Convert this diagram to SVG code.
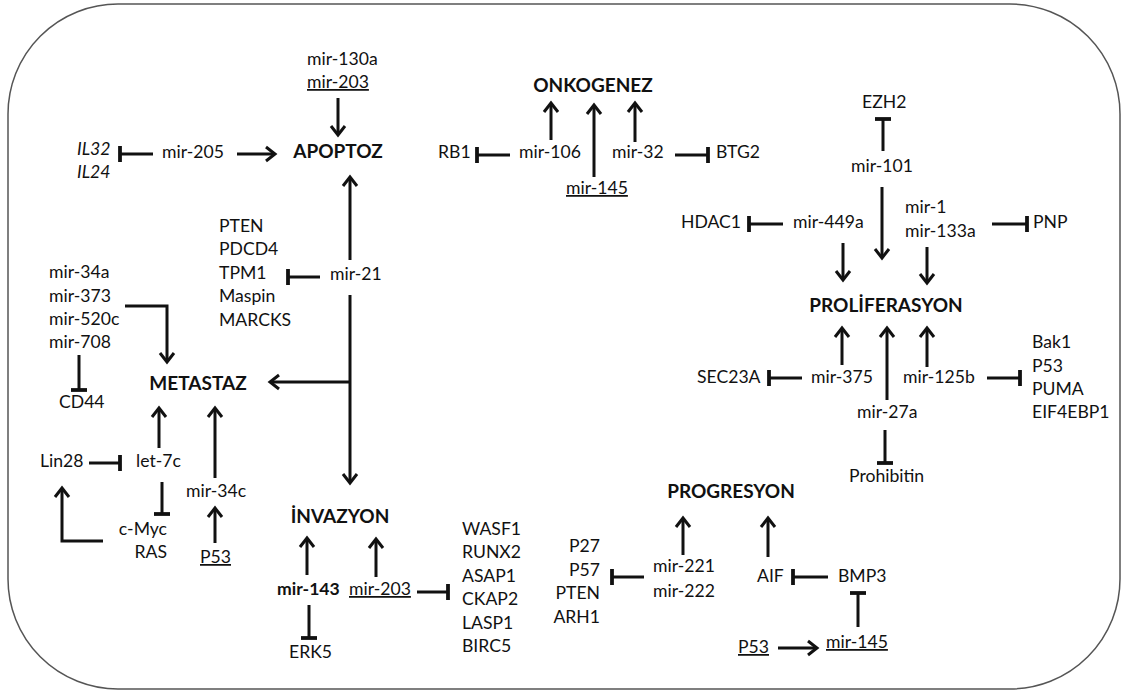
<svg xmlns="http://www.w3.org/2000/svg" width="1129" height="693" viewBox="0 0 1129 693">
<style>
text{font-family:Lato,"Open Sans","Liberation Sans",sans-serif;font-size:17.6px;fill:#111}
.b{font-weight:bold;font-size:19px}
.i{font-style:italic}
.u{text-decoration:underline}
.m{text-anchor:middle}
.r{text-anchor:end}
.c line,.c polyline{stroke:#111;stroke-width:3;fill:none}
.a{marker-end:url(#arr)}
.t{marker-end:url(#bar)}
</style>
<defs>
<marker id="arr" markerUnits="userSpaceOnUse" markerWidth="20" markerHeight="20" viewBox="-12 -10 14 20" refX="0" refY="0" orient="auto" overflow="visible">
<path d="M-9,-7 L0,0 L-9,7" fill="none" stroke="#111" stroke-width="3" stroke-linejoin="miter"/>
</marker>
<marker id="bar" markerUnits="userSpaceOnUse" markerWidth="20" markerHeight="20" viewBox="-4 -10 8 20" refX="0" refY="0" orient="auto" overflow="visible">
<path d="M0,-8 L0,8" fill="none" stroke="#111" stroke-width="3.8"/>
</marker>
</defs>
<rect x="8" y="4" width="1112" height="685" rx="110" ry="110" fill="#fff" stroke="#555" stroke-width="1.5"/>
<g class="c" id="connectors">
<line class="a" x1="338" y1="98" x2="338" y2="135"/>
<line class="a" x1="237" y1="154" x2="275" y2="154"/>
<line class="t" x1="153" y1="154" x2="120" y2="154"/>
<line class="a" x1="350" y1="260" x2="350" y2="177"/>
<line class="t" x1="320" y1="277" x2="288" y2="277"/>
<line class="a" x1="350" y1="295" x2="350" y2="483"/>
<line class="a" x1="350" y1="382" x2="270" y2="382"/>
<polyline class="a" points="125,306 167,306 167,362"/>
<line class="t" x1="79" y1="355" x2="79" y2="390"/>
<line class="a" x1="159" y1="448" x2="159" y2="408"/>
<line class="a" x1="215" y1="478" x2="215" y2="408"/>
<line class="t" x1="89" y1="463" x2="120" y2="463"/>
<line class="t" x1="162" y1="482" x2="162" y2="514"/>
<polyline class="a" points="103,541 62,541 62,488"/>
<line class="a" x1="215" y1="543" x2="215" y2="508"/>
<line class="a" x1="307" y1="575" x2="307" y2="538"/>
<line class="a" x1="376" y1="577" x2="376" y2="539"/>
<line class="t" x1="417" y1="592" x2="448" y2="592"/>
<line class="t" x1="309" y1="605" x2="309" y2="638"/>
<line class="a" x1="551" y1="140" x2="551" y2="103"/>
<line class="a" x1="594" y1="177" x2="594" y2="105"/>
<line class="a" x1="635" y1="142" x2="635" y2="103"/>
<line class="t" x1="510" y1="155" x2="477" y2="155"/>
<line class="t" x1="675" y1="155" x2="708" y2="155"/>
<line class="t" x1="883" y1="151" x2="883" y2="119"/>
<line class="a" x1="882" y1="187" x2="882" y2="258"/>
<line class="t" x1="783" y1="224" x2="749" y2="224"/>
<line class="a" x1="843" y1="243" x2="843" y2="280"/>
<line class="a" x1="927" y1="247" x2="927" y2="283"/>
<line class="t" x1="992" y1="224" x2="1027" y2="224"/>
<line class="a" x1="842" y1="365" x2="842" y2="328"/>
<line class="a" x1="887" y1="400" x2="887" y2="328"/>
<line class="a" x1="927" y1="367" x2="927" y2="328"/>
<line class="t" x1="802" y1="378" x2="769" y2="378"/>
<line class="t" x1="987" y1="378" x2="1020" y2="378"/>
<line class="t" x1="885" y1="430" x2="885" y2="463"/>
<line class="a" x1="683" y1="555" x2="683" y2="518"/>
<line class="a" x1="768" y1="557" x2="768" y2="518"/>
<line class="t" x1="644" y1="577" x2="612" y2="577"/>
<line class="t" x1="828" y1="577" x2="793" y2="577"/>
<line class="t" x1="858" y1="627" x2="858" y2="593"/>
<line class="a" x1="778" y1="648" x2="817" y2="648"/>
</g>
<g id="apoptoz"><text class="b m" x="338" y="158">APOPTOZ</text></g>
<g id="onkogenez"><text class="b m" x="593" y="92">ONKOGENEZ</text></g>
<g id="proliferasyon"><text class="b m" x="886" y="312">PROLİFERASYON</text></g>
<g id="metastaz"><text class="b m" x="198" y="390">METASTAZ</text></g>
<g id="invazyon"><text class="b m" x="340" y="523">İNVAZYON</text></g>
<g id="progresyon"><text class="b m" x="731" y="498">PROGRESYON</text></g>
<g id="mir130a-203"><text x="307" y="65">mir-130a</text><text class="u" x="307" y="88">mir-203</text></g>
<g id="mir205"><text x="162" y="158">mir-205</text></g>
<g id="il"><text class="i" x="77" y="155">IL32</text><text class="i" x="77" y="178">IL24</text></g>
<g id="pten-list"><text x="219" y="232">PTEN</text><text x="219" y="255">PDCD4</text><text x="219" y="279">TPM1</text><text x="219" y="302">Maspin</text><text x="219" y="326">MARCKS</text></g>
<g id="mir21"><text x="330" y="280">mir-21</text></g>
<g id="mir34a-list"><text x="49" y="278">mir-34a</text><text x="49" y="302">mir-373</text><text x="49" y="325">mir-520c</text><text x="49" y="348">mir-708</text></g>
<g id="cd44"><text x="59" y="408">CD44</text></g>
<g id="lin28"><text x="40" y="467">Lin28</text></g>
<g id="let7c"><text x="136" y="467">let-7c</text></g>
<g id="cmyc"><text class="r" x="167" y="535">c-Myc</text><text class="r" x="167" y="558">RAS</text></g>
<g id="mir34c"><text x="186" y="497">mir-34c</text></g>
<g id="p53a"><text class="u" x="200" y="563">P53</text></g>
<g id="mir143"><text class="b" style="font-size:17.6px" x="277" y="595">mir-143</text></g>
<g id="mir203b"><text class="u" x="349" y="595">mir-203</text></g>
<g id="erk5"><text x="289" y="658">ERK5</text></g>
<g id="wasf-list"><text x="462" y="535">WASF1</text><text x="462" y="558">RUNX2</text><text x="462" y="582">ASAP1</text><text x="462" y="605">CKAP2</text><text x="462" y="629">LASP1</text><text x="462" y="652">BIRC5</text></g>
<g id="rb1"><text x="438" y="158">RB1</text></g>
<g id="mir106"><text x="519" y="158">mir-106</text></g>
<g id="mir32"><text x="612" y="158">mir-32</text></g>
<g id="btg2"><text x="716" y="158">BTG2</text></g>
<g id="mir145a"><text class="u" x="566" y="194">mir-145</text></g>
<g id="ezh2"><text x="862" y="108">EZH2</text></g>
<g id="mir101"><text x="851" y="172">mir-101</text></g>
<g id="hdac1"><text x="681" y="228">HDAC1</text></g>
<g id="mir449a"><text x="793" y="228">mir-449a</text></g>
<g id="mir1-133a"><text x="905" y="213">mir-1</text><text x="905" y="237">mir-133a</text></g>
<g id="pnp"><text x="1033" y="228">PNP</text></g>
<g id="sec23a"><text x="697" y="383">SEC23A</text></g>
<g id="mir375"><text x="811" y="383">mir-375</text></g>
<g id="mir125b"><text x="903" y="383">mir-125b</text></g>
<g id="bak1-list"><text x="1032" y="348">Bak1</text><text x="1032" y="372">P53</text><text x="1032" y="395">PUMA</text><text x="1032" y="418">EIF4EBP1</text></g>
<g id="mir27a"><text x="857" y="418">mir-27a</text></g>
<g id="prohibitin"><text x="849" y="482">Prohibitin</text></g>
<g id="p27-list"><text class="r" x="600" y="552">P27</text><text class="r" x="600" y="576">P57</text><text class="r" x="600" y="599">PTEN</text><text class="r" x="600" y="623">ARH1</text></g>
<g id="mir221-222"><text x="653" y="572">mir-221</text><text x="653" y="597">mir-222</text></g>
<g id="aif"><text x="757" y="582">AIF</text></g>
<g id="bmp3"><text x="838" y="582">BMP3</text></g>
<g id="p53b"><text class="u" x="738" y="653">P53</text></g>
<g id="mir145b"><text class="u" x="826" y="648">mir-145</text></g>
</svg>
